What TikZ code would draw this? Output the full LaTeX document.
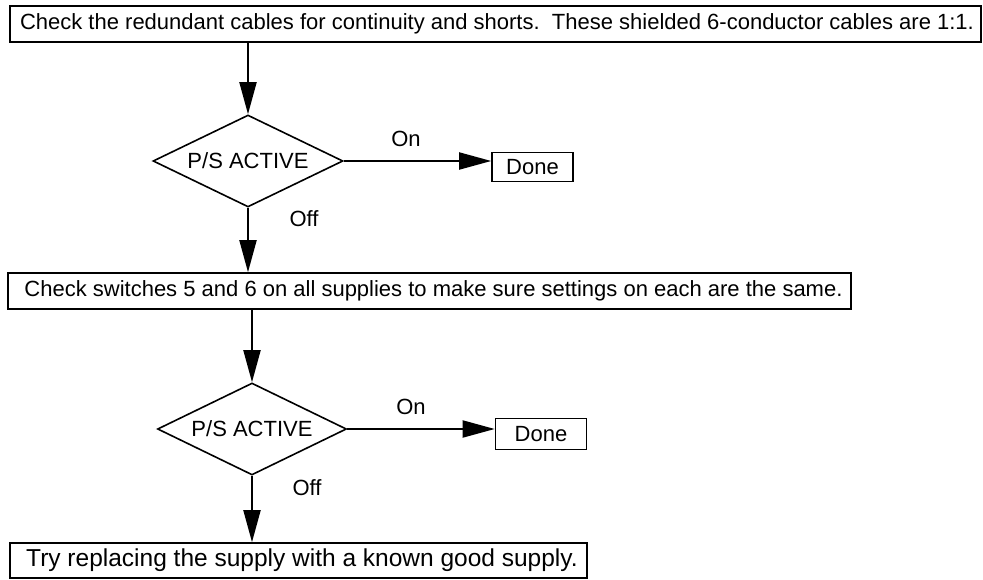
\documentclass[tikz,border=0pt]{standalone}
\usepackage{fontspec}
\setmainfont{Liberation Sans}
\usetikzlibrary{shapes.geometric,arrows.meta}
\begin{document}
\begin{tikzpicture}[x=1pt,y=-1pt,
  box/.style={draw,line width=1.6pt,inner sep=0pt,font=\fontsize{22}{26}\selectfont,anchor=center},
  dec/.style={draw,line width=1.6pt,diamond,aspect=2,inner sep=0pt,font=\fontsize{22}{26}\selectfont},
  lbl/.style={font=\fontsize{22}{26}\selectfont},
  arr/.style={line width=1.9pt,-{Triangle[length=32pt,width=17pt]}}]
\useasboundingbox (0,0) rectangle (983,580);
\node[box,minimum width=971pt,minimum height=36pt] (b1) at (495.5,24) {\hspace{3pt}Check the redundant cables for continuity and shorts.\ \ These shielded 6-conductor cables are 1:1.};
\node[dec,minimum width=190pt,minimum height=92pt] (d1) at (248,161) {P/S ACTIVE};
\node[box,minimum width=81pt,minimum height=29pt] (n1) at (532.5,167) {Done};
\node[box,minimum width=843pt,minimum height=36pt] (b2) at (429.5,291) {\hspace{8pt}Check switches 5 and 6 on all supplies to make sure settings on each are the same.};
\node[dec,minimum width=189pt,minimum height=92pt] (d2) at (252,429) {P/S ACTIVE};
\node[box,minimum width=91pt,minimum height=31pt] (n2) at (541,434) {Done};
\node[box,minimum width=577pt,minimum height=35pt,font=\fontsize{24.5}{28}\selectfont] (b3) at (298.5,560.5) {\hspace{7pt}Try replacing the supply with a known good supply.};
\draw[arr] (b1.south -| d1.north) -- (d1.north);
\draw[arr] (d1.east) -- (d1.east -| n1.west);
\node[lbl] (on1) at (406,139) {On};
\draw[arr] (d1.south) -- (d1.south |- b2.north);
\node[lbl] (off1) at (304,219) {Off};
\draw[arr] (b2.south -| d2.north) -- (d2.north);
\draw[arr] (d2.east) -- (d2.east -| n2.west);
\node[lbl] (on2) at (411,407) {On};
\draw[arr] (d2.south) -- (d2.south |- b3.north);
\node[lbl] (off2) at (307,488) {Off};
\end{tikzpicture}
\end{document}
